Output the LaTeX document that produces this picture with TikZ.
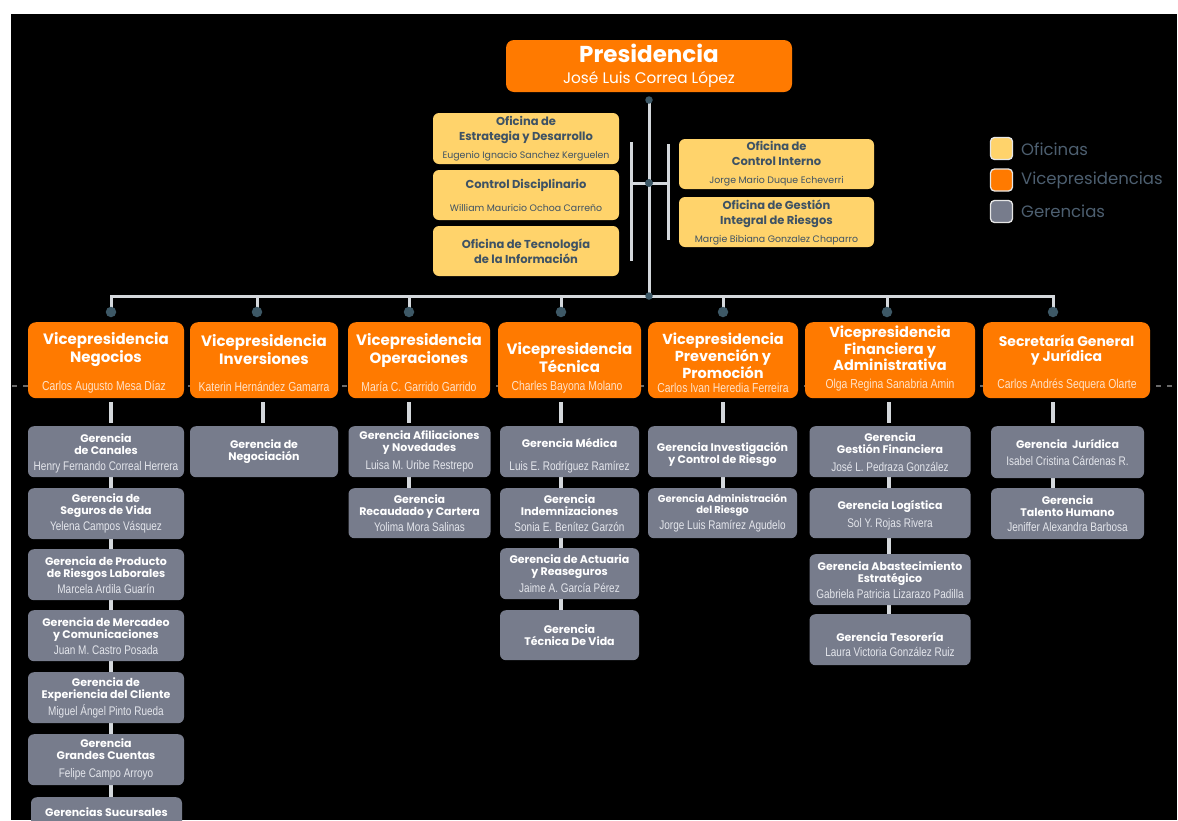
\documentclass[tikz,border=0pt]{standalone}
\usepackage{fontspec}
\setmainfont{Poppins}
\newfontfamily\nmfont[FakeStretch=0.8]{Liberation Sans}
\pgfdeclarelayer{back}
\pgfdeclarelayer{bg}
\pgfsetlayers{back,bg,main}
\definecolor{vporange}{HTML}{FF7A00}
\definecolor{ofyellow}{HTML}{FFD36B}
\definecolor{gergray}{HTML}{777C8C}
\definecolor{oftext}{HTML}{3E5264}
\definecolor{linecol}{HTML}{D4D8DC}
\definecolor{dotcol}{HTML}{3D5866}
\definecolor{legtextc}{HTML}{4D5F70}
\definecolor{legborder}{HTML}{E6E6E6}
\definecolor{vpnamec}{HTML}{FFE2C8}
\definecolor{gnamec}{HTML}{E4E6EC}
\definecolor{dashcol}{HTML}{6A6A6A}
\newcommand\myGN[1]{{\nmfont\mdseries\color{gnamec}\fontsize{12.5}{12}\selectfont #1}}
\newcommand\myON[1]{{\mdseries\fontsize{9.4}{12}\selectfont #1}}
\newcommand\myUp[1]{\rule{0pt}{#1}}
\newcommand\myTight{\setlength{\lineskiplimit}{-100pt}}
\tikzset{
  box/.style={rounded corners=6pt, inner sep=0pt, align=center},
  presbox/.style={box, fill=vporange, text=white, minimum width=286pt, minimum height=52pt, rounded corners=8pt, font=\fontsize{15.3}{21}\selectfont},
  ofbox/.style={box, fill=ofyellow, text=oftext, font=\bfseries\fontsize{11.5}{15}\selectfont},
  vpbox/.style={box, fill=vporange, minimum height=76pt, rounded corners=8pt, anchor=north},
  vptitle/.style={inner sep=0pt, align=center, text=white, font=\bfseries\fontsize{15}{18}\selectfont},
  vptitlethree/.style={vptitle, font=\bfseries\fontsize{14.5}{15}\selectfont},
  vpname/.style={inner sep=0pt, text=vpnamec, font=\nmfont\fontsize{13}{13}\selectfont},
  gbox/.style={box, fill=gergray, text=white, minimum height=51pt, anchor=north, font=\bfseries\fontsize{11}{12}\selectfont\myTight},
  link/.style={draw=linecol, line width=3pt},
  vlink/.style={draw=linecol, line width=3.5pt},
  vdot/.style={circle, fill=dotcol, inner sep=0pt, minimum size=10.5pt},
  sdot/.style={circle, fill=dotcol, inner sep=0pt, minimum size=7.5pt},
  legbox/.style={draw=legborder, line width=1.3pt, rounded corners=4pt, minimum size=22pt, inner sep=0pt},
  legtext/.style={text=legtextc, font=\fontsize{16.5}{16.5}\selectfont, anchor=west, inner sep=0pt},
}
\begin{document}
\begin{tikzpicture}[x=1pt,y=-1pt]
\useasboundingbox (0,0) rectangle (1178,820);
\clip (0,0) rectangle (1178,820);
\begin{pgfonlayer}{back}
\fill[white] (0,0) rectangle (1178,820);
\fill[black] (11,14) rectangle (1177,820);
\end{pgfonlayer}

% ---------- Presidencia ----------
\node[presbox] (pres) at (649,66) {{\fontsize{23}{21}\selectfont\bfseries Presidencia}\\José Luis Correa López};

% ---------- Oficinas ----------
\node[ofbox, minimum width=186pt, minimum height=51pt] (of1) at (526,138.5) {Oficina de\\Estrategia y Desarrollo\\[3pt]\myON{Eugenio Ignacio Sanchez Kerguelen}};
\node[ofbox, minimum width=186pt, minimum height=50pt] (of2) at (526,195) {Control Disciplinario\\[8pt]\myON{William Mauricio Ochoa Carreño}};
\node[ofbox, minimum width=186pt, minimum height=50pt] (of3) at (526,251) {Oficina de Tecnología\\de la Información};
\node[ofbox, minimum width=195pt, minimum height=50pt] (of4) at (776.5,164) {Oficina de\\Control Interno\\[3pt]\myON{Jorge Mario Duque Echeverri}};
\node[ofbox, minimum width=195pt, minimum height=50pt] (of5) at (776.5,222) {Oficina de Gestión\\Integral de Riesgos\\[3pt]\myON{Margie Bibiana Gonzalez Chaparro}};

% ---------- Legend ----------
\node[legbox, fill=ofyellow] (l1) at (1001.5,148.5) {};
\node[legbox, fill=vporange] (l2) at (1001.5,180) {};
\node[legbox, fill=gergray] (l3) at (1001.5,211.5) {};
\node[legtext] (l1t) at (1021,149) {Oficinas};
\node[legtext] (l2t) at (1021,180) {Vicepresidencias};
\node[legtext] (l3t) at (1021,211) {Gerencias};

% ---------- Vicepresidencias ----------
\node[vpbox, minimum width=156pt] (vp1) at (106,322) {};
\node[vpbox, minimum width=148pt] (vp2) at (264,322) {};
\node[vpbox, minimum width=142pt] (vp3) at (419,322) {};
\node[vpbox, minimum width=143pt] (vp4) at (569.5,322) {};
\node[vpbox, minimum width=150pt] (vp5) at (723,322) {};
\node[vpbox, minimum width=170pt] (vp6) at (890,322) {};
\node[vpbox, minimum width=167pt] (vp7) at (1066.5,322) {};

\node[vptitle] (vp1t) at (106,350) {Vicepresidencia\\Negocios};
\node[vptitle] (vp2t) at (264,350) {Vicepresidencia\\Inversiones};
\node[vptitle] (vp3t) at (419,350) {Vicepresidencia\\Operaciones};
\node[vptitle] (vp4t) at (569.5,358) {Vicepresidencia\\Técnica};
\node[vptitlethree, font=\bfseries\fontsize{14.5}{14.5}\selectfont] (vp5t) at (723,355.5) {Vicepresidencia\\Prevención y\\Promoción};
\node[vptitlethree] (vp6t) at (890,348.5) {Vicepresidencia\\Financiera y\\Administrativa};
\node[vptitlethree, font=\bfseries\fontsize{14}{15}\selectfont] (vp7t) at (1066.5,350) {Secretaría General\\y Jurídica};

\node[vpname] (vp1n) at (104,387) {Carlos Augusto Mesa Díaz};
\node[vpname] (vp2n) at (264,387) {Katerin Hernández Gamarra};
\node[vpname] (vp3n) at (419,387) {María C. Garrido Garrido};
\node[vpname] (vp4n) at (567,387) {Charles Bayona Molano};
\node[vpname] (vp5n) at (723,387.5) {Carlos Ivan Heredia Ferreira};
\node[vpname] (vp6n) at (890,385) {Olga Regina Sanabria Amin};
\node[vpname] (vp7n) at (1067,385) {Carlos Andrés Sequera Olarte};

% ---------- Gerencias col 1 ----------
\node[gbox, minimum width=156pt] (g11) at (106,426) {\myUp{12pt}Gerencia\\de Canales\\[4pt]\myGN{Henry Fernando Correal Herrera}};
\node[gbox, minimum width=156pt] (g12) at (106,488) {Gerencia de\\Seguros de Vida\\[4pt]\myGN{Yelena Campos Vásquez}};
\node[gbox, minimum width=156pt] (g13) at (106,549) {Gerencia de Producto\\de Riesgos Laborales\\[4pt]\myGN{Marcela Ardila Guarín}};
\node[gbox, minimum width=156pt] (g14) at (106,610) {Gerencia de Mercadeo\\y Comunicaciones\\[4pt]\myGN{Juan M. Castro Posada}};
\node[gbox, minimum width=156pt] (g15) at (106,672) {Gerencia de\\Experiencia del Cliente\\[5pt]\myGN{Miguel Ángel Pinto Rueda}};
\node[gbox, minimum width=156pt] (g16) at (106,734) {Gerencia\\Grandes Cuentas\\[6pt]\myGN{Felipe Campo Arroyo}};
\node[gbox, minimum width=151pt] (g17) at (106.5,797) {};
\node[inner sep=0pt, text=white, font=\bfseries\fontsize{11}{12}\selectfont] (g17t) at (106.5,812) {Gerencias Sucursales};

% ---------- col 2 ----------
\node[gbox, minimum width=148pt] (g21) at (264,426) {Gerencia de\\Negociación};

% ---------- col 3 ----------
\node[gbox, minimum width=142pt] (g31) at (419.5,426) {Gerencia Afiliaciones\\y Novedades\\[6pt]\myGN{Luisa M. Uribe Restrepo}};
\node[gbox, minimum width=142pt, minimum height=50pt] (g32) at (419.5,488) {Gerencia\\Recaudado y Cartera\\[4pt]\myGN{Yolima Mora Salinas}};

% ---------- col 4 ----------
\node[gbox, minimum width=139pt] (g41) at (569.5,426) {\myUp{17pt}Gerencia Médica\\[11pt]\myGN{Luis E. Rodríguez Ramírez}};
\node[gbox, minimum width=139pt, minimum height=50pt] (g42) at (569.5,488) {Gerencia\\Indemnizaciones\\[4pt]\myGN{Sonia E. Benítez Garzón}};
\node[gbox, minimum width=139pt] (g43) at (569.5,548) {Gerencia de Actuaria\\y Reaseguros\\[5pt]\myGN{Jaime A. García Pérez}};
\node[gbox, minimum width=139pt, minimum height=50pt] (g44) at (569.5,610) {Gerencia\\Técnica De Vida};

% ---------- col 5 ----------
\node[gbox, minimum width=149pt] (g51) at (722.5,426) {\myUp{14pt}Gerencia Investigación\\y Control de Riesgo};
\node[gbox, minimum width=149pt, minimum height=50pt, font=\bfseries\fontsize{10}{11}\selectfont\myTight] (g52) at (722.5,488) {Gerencia Administración\\del Riesgo\\[5pt]\myGN{Jorge Luis Ramírez Agudelo}};

% ---------- col 6 ----------
\node[gbox, minimum width=161pt] (g61) at (890,426) {Gerencia\\Gestión Financiera\\[6pt]\myGN{José L. Pedraza González}};
\node[gbox, minimum width=161pt, minimum height=50pt] (g62) at (890,488) {\myUp{14pt}Gerencia Logística\\[6pt]\myGN{Sol Y. Rojas Rivera}};
\node[gbox, minimum width=161pt] (g63) at (890,554) {Gerencia Abastecimiento\\Estratégico\\[4pt]\myGN{Gabriela Patricia Lizarazo Padilla}};
\node[gbox, minimum width=161pt] (g64) at (890,614) {\myUp{19pt}Gerencia Tesorería\\[3pt]\myGN{Laura Victoria González Ruiz}};

% ---------- col 7 ----------
\node[gbox, minimum width=153pt, minimum height=52pt] (g71) at (1067.5,426) {Gerencia\ \ Jurídica\\[5pt]\myGN{Isabel Cristina Cárdenas R.}};
\node[gbox, minimum width=153pt] (g72) at (1067.5,488) {Gerencia\\Talento Humano\\[3pt]\myGN{Jeniffer Alexandra Barbosa}};

% ---------- connector points ----------
\coordinate (t0) at (649,100);
\coordinate (xc) at (649,183);
\coordinate (bC) at (649,296);
\coordinate (bL) at (111,296);
\coordinate (bR) at (1053,296);
\coordinate (lb1) at (631,142);
\coordinate (lb2) at (631,261);
\coordinate (rb1) at (668,144);
\coordinate (rb2) at (668,240);
\coordinate (xl) at (631,183);
\coordinate (xr) at (668,183);
\coordinate (dL) at (12,386);
\coordinate (dR) at (1178,386);
\foreach \i/\x in {1/111,2/257,3/409,4/561,5/723,6/887,7/1053}{
  \coordinate (q\i) at (\x,296);
  \coordinate (p\i) at (\x,312);
}
\coordinate (c1) at (111,0);
\coordinate (c2) at (263,0);
\coordinate (c3) at (409,0);
\coordinate (c4) at (561,0);
\coordinate (c5) at (723,0);
\coordinate (c6) at (889,0);
\coordinate (c7) at (1053,0);

\begin{pgfonlayer}{bg}
\draw[dashcol, line width=1.2pt, dash pattern=on 5pt off 6pt] (dL) -- (dR);
\draw[link] (t0) -- (bC);
\draw[link] (lb1) -- (lb2);
\draw[link] (rb1) -- (rb2);
\draw[link] (xl) -- (xr);
\draw[link, line cap=rect] (q1) -- (bR);
\foreach \i in {1,...,7}{ \draw[link] (q\i) -- (p\i); }
% VP to first gerencia
\draw[vlink, shorten <=4pt, shorten >=3pt] (vp1.south -| c1) -- (g11.north -| c1);
\draw[vlink, shorten <=4pt, shorten >=3pt] (vp2.south -| c2) -- (g21.north -| c2);
\draw[vlink, shorten <=4pt, shorten >=3pt] (vp3.south -| c3) -- (g31.north -| c3);
\draw[vlink, shorten <=4pt, shorten >=3pt] (vp4.south -| c4) -- (g41.north -| c4);
\draw[vlink, shorten <=4pt, shorten >=3pt] (vp5.south -| c5) -- (g51.north -| c5);
\draw[vlink, shorten <=4pt, shorten >=3pt] (vp6.south -| c6) -- (g61.north -| c6);
\draw[vlink, shorten <=4pt, shorten >=3pt] (vp7.south -| c7) -- (g71.north -| c7);
% chains
\draw[vlink] (g11.south -| c1) -- (g17.north -| c1);
\draw[vlink] (g31.south -| c3) -- (g32.north -| c3);
\draw[vlink] (g41.south -| c4) -- (g44.north -| c4);
\draw[vlink] (g51.south -| c5) -- (g52.north -| c5);
\draw[vlink] (g61.south -| c6) -- (g64.north -| c6);
\draw[vlink] (g71.south -| c7) -- (g72.north -| c7);
\end{pgfonlayer}

% dots
\node[sdot] (dt0) at (t0) {};
\node[sdot, minimum size=8pt] (dxc) at (xc) {};
\node[sdot] (dbC) at (bC) {};
\foreach \i in {1,...,7}{ \node[vdot] (d\i) at (p\i) {}; }
\end{tikzpicture}
\end{document}
